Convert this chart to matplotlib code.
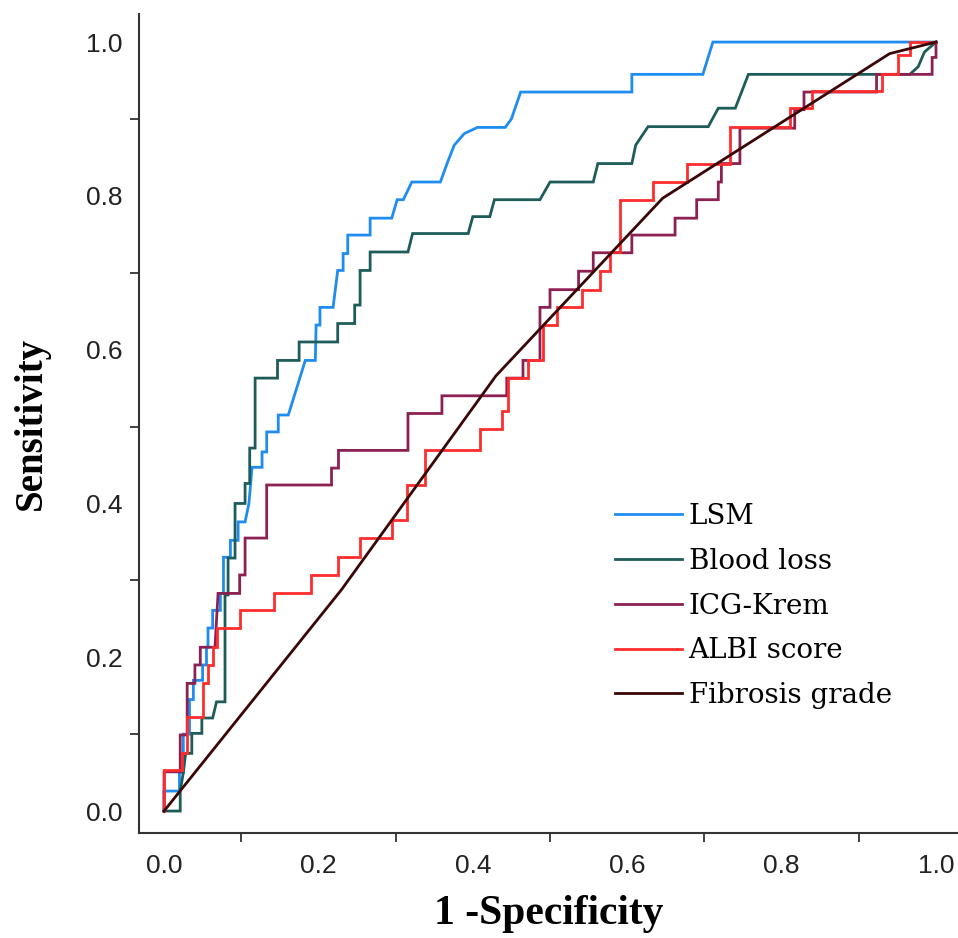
import matplotlib
matplotlib.use('Agg')
import matplotlib.pyplot as plt

# ROC curves (1 - specificity, sensitivity)
lsm_fpr = [0.0, 0.0, 0.02, 0.02, 0.025, 0.025, 0.033, 0.033, 0.038, 0.038, 0.05, 0.05,
           0.055, 0.055, 0.057, 0.057, 0.063, 0.063, 0.073, 0.073, 0.077, 0.077, 0.086,
           0.086, 0.096, 0.096, 0.105, 0.11, 0.114, 0.127, 0.127, 0.133, 0.133, 0.148,
           0.148, 0.161, 0.183, 0.196, 0.197, 0.202, 0.202, 0.219, 0.225, 0.232, 0.232,
           0.238, 0.238, 0.267, 0.267, 0.295, 0.302, 0.31, 0.321, 0.358, 0.367, 0.376,
           0.389, 0.406, 0.442, 0.45, 0.462, 0.606, 0.606, 0.698, 0.711, 1.0]
lsm_tpr = [0.0, 0.026, 0.026, 0.05, 0.05, 0.1, 0.1, 0.145, 0.145, 0.17, 0.17, 0.19,
           0.19, 0.213, 0.213, 0.238, 0.238, 0.261, 0.261, 0.283, 0.283, 0.33, 0.33,
           0.352, 0.352, 0.376, 0.376, 0.40, 0.447, 0.447, 0.467, 0.467, 0.493, 0.493,
           0.515, 0.515, 0.586, 0.586, 0.632, 0.632, 0.655, 0.655, 0.703, 0.703, 0.725,
           0.725, 0.749, 0.749, 0.771, 0.771, 0.795, 0.795, 0.818, 0.818, 0.843, 0.866,
           0.881, 0.889, 0.889, 0.90, 0.935, 0.935, 0.958, 0.958, 1.0, 1.0]

blood_fpr = [0.0, 0.021, 0.021, 0.025, 0.028, 0.036, 0.036, 0.049, 0.049, 0.063, 0.068,
             0.079, 0.079, 0.083, 0.083, 0.092, 0.092, 0.105, 0.105, 0.111, 0.111, 0.118,
             0.118, 0.147, 0.147, 0.175, 0.175, 0.225, 0.225, 0.247, 0.247, 0.254, 0.254,
             0.267, 0.267, 0.316, 0.322, 0.394, 0.4, 0.422, 0.428, 0.487, 0.5, 0.556,
             0.562, 0.606, 0.611, 0.627, 0.705, 0.718, 0.74, 0.757, 0.966, 0.977, 0.985, 1.0]
blood_tpr = [0.0, 0.0, 0.026, 0.05, 0.075, 0.075, 0.101, 0.101, 0.121, 0.121, 0.142,
             0.142, 0.281, 0.281, 0.329, 0.329, 0.40, 0.40, 0.426, 0.426, 0.472, 0.472,
             0.563, 0.563, 0.586, 0.586, 0.61, 0.61, 0.634, 0.634, 0.658, 0.658, 0.703,
             0.703, 0.727, 0.727, 0.751, 0.751, 0.773, 0.773, 0.795, 0.795, 0.818, 0.818,
             0.842, 0.842, 0.866, 0.89, 0.89, 0.914, 0.914, 0.958, 0.958, 0.968, 0.987, 1.0]

icg_fpr = [0.0, 0.0, 0.021, 0.021, 0.03, 0.03, 0.04, 0.04, 0.047, 0.047, 0.066, 0.07,
           0.098, 0.098, 0.105, 0.105, 0.133, 0.133, 0.217, 0.217, 0.226, 0.226, 0.316,
           0.316, 0.36, 0.36, 0.444, 0.444, 0.465, 0.465, 0.487, 0.487, 0.5, 0.5, 0.537,
           0.537, 0.556, 0.556, 0.606, 0.606, 0.662, 0.662, 0.69, 0.69, 0.718, 0.718,
           0.722, 0.722, 0.746, 0.746, 0.817, 0.817, 0.829, 0.829, 0.923, 0.923, 0.995,
           0.995, 1.0, 1.0]
icg_tpr = [0.0, 0.051, 0.051, 0.099, 0.099, 0.166, 0.166, 0.19, 0.19, 0.213, 0.213, 0.283,
           0.283, 0.307, 0.307, 0.355, 0.355, 0.424, 0.424, 0.446, 0.446, 0.469, 0.469,
           0.517, 0.517, 0.54, 0.54, 0.563, 0.563, 0.586, 0.586, 0.655, 0.655, 0.678,
           0.678, 0.702, 0.702, 0.726, 0.726, 0.749, 0.749, 0.771, 0.771, 0.795, 0.795,
           0.818, 0.818, 0.842, 0.842, 0.888, 0.888, 0.912, 0.912, 0.935, 0.935, 0.958,
           0.958, 0.98, 0.98, 1.0]

albi_fpr = [0.0, 0.0, 0.023, 0.023, 0.03, 0.03, 0.05, 0.05, 0.057, 0.057, 0.063, 0.063,
            0.068, 0.068, 0.098, 0.098, 0.142, 0.142, 0.191, 0.191, 0.226, 0.226, 0.254,
            0.254, 0.295, 0.295, 0.315, 0.315, 0.338, 0.338, 0.409, 0.409, 0.438, 0.438,
            0.446, 0.446, 0.472, 0.472, 0.491, 0.491, 0.509, 0.509, 0.541, 0.541, 0.565,
            0.565, 0.578, 0.578, 0.591, 0.591, 0.634, 0.634, 0.677, 0.677, 0.733, 0.733,
            0.811, 0.811, 0.839, 0.839, 0.93, 0.93, 0.951, 0.951, 0.966, 0.966, 1.0]
albi_tpr = [0.0, 0.053, 0.053, 0.075, 0.075, 0.122, 0.122, 0.166, 0.166, 0.19, 0.19, 0.213,
            0.213, 0.238, 0.238, 0.261, 0.261, 0.284, 0.284, 0.307, 0.307, 0.33, 0.33,
            0.355, 0.355, 0.378, 0.378, 0.424, 0.424, 0.469, 0.469, 0.497, 0.497, 0.52,
            0.52, 0.563, 0.563, 0.586, 0.586, 0.632, 0.632, 0.655, 0.655, 0.678, 0.678,
            0.702, 0.702, 0.727, 0.727, 0.795, 0.795, 0.818, 0.818, 0.842, 0.842, 0.889,
            0.889, 0.914, 0.914, 0.937, 0.937, 0.958, 0.958, 0.983, 0.983, 1.0, 1.0]

fib_fpr = [0.0, 0.23, 0.43, 0.646, 0.94, 1.0]
fib_tpr = [0.0, 0.288, 0.566, 0.797, 0.985, 1.0]

names = ['LSM', 'Blood loss', 'ICG-Krem', 'ALBI score', 'Fibrosis grade']
colors = ['#1e8cf0', '#1d5c58', '#8c2052', '#ff2d2d', '#3a0606']
curves = [(lsm_fpr, lsm_tpr), (blood_fpr, blood_tpr), (icg_fpr, icg_tpr),
          (albi_fpr, albi_tpr), (fib_fpr, fib_tpr)]

tick_labels = ['0.0', '0.2', '0.4', '0.6', '0.8', '1.0']
label_pos = [0.0, 0.2, 0.4, 0.6, 0.8, 1.0]
tick_pos = [0.1, 0.3, 0.5, 0.7, 0.9]

fig = plt.figure(figsize=(9.58, 9.38), dpi=100)
ax = fig.add_axes([0.1451, 0.1119, 0.8549, 0.8731])

for (fx, ty), name, col in zip(curves, names, colors):
    ax.plot(fx, ty, color=col, lw=2.0, label=name, solid_joinstyle='miter')

ax.set_xlim(-0.0324, 1.0285)
ax.set_ylim(-0.0286, 1.0364)

for side in ['top', 'right']:
    ax.spines[side].set_visible(False)
for side in ['left', 'bottom']:
    ax.spines[side].set_linewidth(1.5)
    ax.spines[side].set_color('#333333')

# labels sit at even positions without tick marks, marks at odd positions
ax.set_xticks(label_pos)
ax.set_xticklabels(tick_labels)
ax.set_yticks(label_pos)
ax.set_yticklabels(tick_labels)
ax.set_xticks(tick_pos, minor=True)
ax.set_yticks(tick_pos, minor=True)
ax.tick_params(which='major', length=0, labelsize=19, colors='#222222')
ax.tick_params(axis='x', which='major', pad=15)
ax.tick_params(axis='y', which='major', pad=12)
ax.tick_params(which='minor', length=6.5, width=1.3, color='#333333', direction='out')
for lab in ax.get_xticklabels() + ax.get_yticklabels():
    lab.set_fontfamily('Liberation Sans')

ax.set_xlabel('1 -Specificity', fontsize=30, fontweight='bold',
              fontfamily='Liberation Serif', labelpad=12)
ax.set_ylabel('Sensitivity', fontsize=28, fontweight='bold',
              fontfamily='Liberation Serif', labelpad=26)

ax.legend(loc='upper left', bbox_to_anchor=(615 / 958, 1 - 503 / 938),
          bbox_transform=fig.transFigure, frameon=False, borderpad=0,
          borderaxespad=0, handlelength=2.4, handletextpad=0.25,
          labelspacing=0.64, prop={'family': 'DejaVu Serif', 'size': 20})

fig.savefig('out.png', dpi=100)
